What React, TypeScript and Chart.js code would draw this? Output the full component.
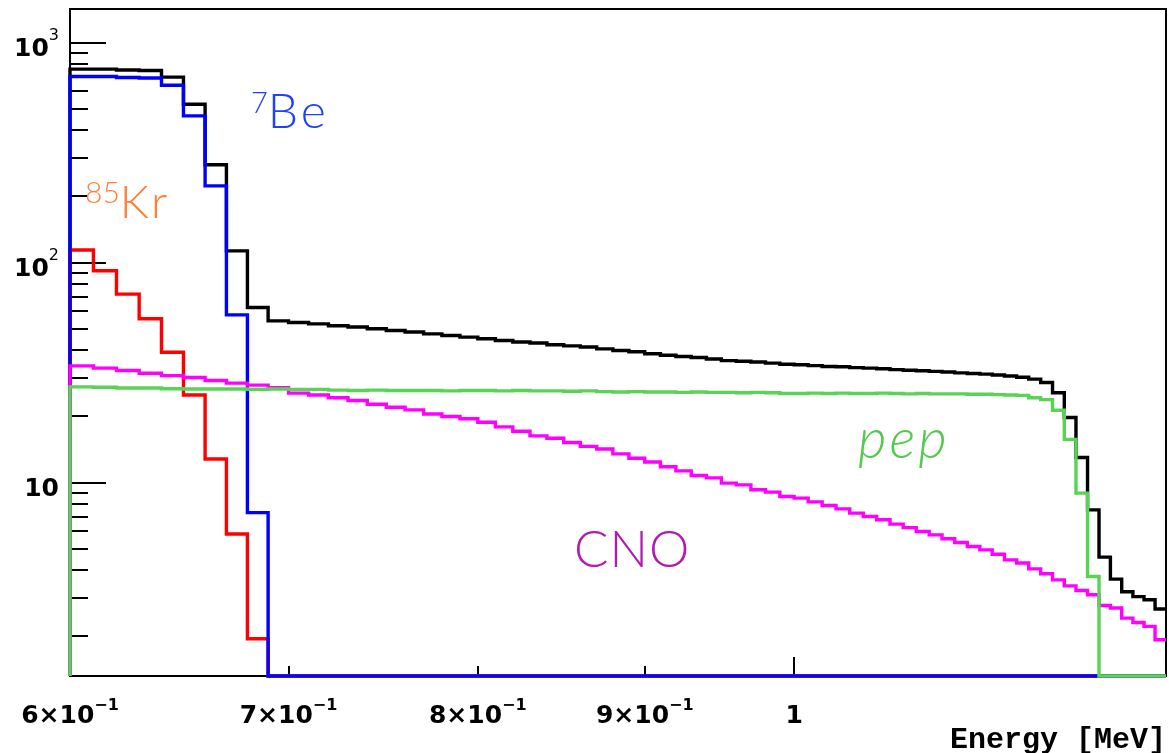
import React, { useEffect, useRef } from "react";
import { Chart, registerables } from "chart.js";

Chart.register(...registerables);

// Histogram binning: 70 bins of 10 keV starting at 0.60 MeV
const BIN_LOW = 0.6;
const BIN_WIDTH = 0.01;

// Axis ranges
const X_MIN = 0.6;
const X_MAX = 1.3;
const Y_MIN = 1.32;
const Y_MAX = 1420;

// Bin contents (counts per bin), one entry per bin from 0.60 MeV upward
const totalCounts = [
  757, 757, 750, 746, 696, 524, 278, 113, 62.4, 54.3,
  53.4, 52.6, 51.6, 50.9, 50.0, 49.1, 48.3, 47.4, 46.6, 45.8,
  45.0, 44.2, 43.5, 43.1, 42.3, 41.8, 41.3, 40.5, 39.8, 39.3,
  38.5, 37.9, 37.4, 37.0, 36.4, 35.8, 35.6, 35.3, 34.9, 34.5,
  34.3, 34.0, 33.7, 33.6, 33.3, 33.1, 32.9, 32.6, 32.4, 32.2,
  32.0, 31.8, 31.5, 31.3, 31.1, 30.8, 30.5, 30.1, 29.5, 28.5,
  25.6, 19.75, 13.0, 7.51, 4.58, 3.64, 3.19, 3.03, 2.93, 2.66,
];

const be7Counts = [
  701, 701, 693, 690, 639, 464, 223, 57.8, 7.3, 0,
  0, 0, 0, 0, 0, 0, 0, 0, 0, 0,
  0, 0, 0, 0, 0, 0, 0, 0, 0, 0,
  0, 0, 0, 0, 0, 0, 0, 0, 0, 0,
  0, 0, 0, 0, 0, 0, 0, 0, 0, 0,
  0, 0, 0, 0, 0, 0, 0, 0, 0, 0,
  0, 0, 0, 0, 0, 0, 0, 0, 0, 0,
];

const kr85Counts = [
  114, 91.7, 71.8, 55.5, 39.1, 25.0, 12.8, 5.83, 1.95, 0,
  0, 0, 0, 0, 0, 0, 0, 0, 0, 0,
  0, 0, 0, 0, 0, 0, 0, 0, 0, 0,
  0, 0, 0, 0, 0, 0, 0, 0, 0, 0,
  0, 0, 0, 0, 0, 0, 0, 0, 0, 0,
  0, 0, 0, 0, 0, 0, 0, 0, 0, 0,
  0, 0, 0, 0, 0, 0, 0, 0, 0, 0,
];

const cnoCounts = [
  33.9, 33.1, 32.3, 31.4, 30.6, 30.0, 29.1, 28.3, 27.7, 27.0,
  25.5, 25.0, 24.3, 23.6, 22.7, 22.0, 21.4, 20.5, 19.95, 19.5,
  18.8, 17.9, 17.1, 16.3, 15.9, 15.2, 14.6, 14.2, 13.5, 12.9,
  12.4, 11.8, 11.3, 10.76, 10.5, 9.94, 9.76, 9.27, 9.04, 8.64,
  8.49, 8.17, 7.86, 7.59, 7.26, 7.01, 6.77, 6.47, 6.24, 5.99,
  5.78, 5.55, 5.34, 5.12, 4.94, 4.72, 4.45, 4.31, 4.05, 3.85,
  3.61, 3.39, 3.23, 3.09, 2.76, 2.69, 2.42, 2.31, 2.22, 1.93,
];

const pepCounts = [
  27.2, 27.1, 26.9, 26.9, 26.7, 26.6, 26.6, 26.6, 26.5, 26.6,
  26.5, 26.5, 26.3, 26.2, 26.3, 26.2, 26.2, 26.2, 26.1, 26.2,
  26.2, 26.1, 26.2, 26.1, 26.1, 26.0, 26.1, 25.9, 25.8, 25.9,
  25.8, 25.8, 25.7, 25.8, 25.7, 25.7, 25.6, 25.7, 25.6, 25.4,
  25.4, 25.5, 25.4, 25.5, 25.4, 25.4, 25.5, 25.4, 25.3, 25.4,
  25.3, 25.3, 25.3, 25.2, 25.2, 25.1, 25.0, 24.9, 24.3, 23.8,
  21.3, 15.7, 8.95, 3.74, 0, 0, 0, 0, 0, 0,
];

// Axis ticks and labels ([mantissa part, exponent])
const xLabelValues = [0.6, 0.7, 0.8, 0.9, 1.0];
const xLabelTexts: [string, string][] = [
  ["6×10", "−1"],
  ["7×10", "−1"],
  ["8×10", "−1"],
  ["9×10", "−1"],
  ["1", ""],
];
const xShortTicks = [0.7, 0.8, 0.9];
const xLongTicks = [1.0];
const yMajorTicks = [10, 100, 1000];
const yTickTexts: [string, string][] = [
  ["10", ""],
  ["10", "2"],
  ["10", "3"],
];
const yDecades = [1, 10, 100];

const X_TITLE = "Energy [MeV]";

const COLORS = {
  total: "#000000",
  be7: "#0000ff",
  kr85: "#ff0000",
  cno: "#ff00ff",
  pep: "#59d354",
};

// Turn bin contents into step-line vertices (low edge of each bin, plus the upper edge of the last).
// Empty bins sit on the lower frame edge, as on a log axis they have no position of their own.
function histogramPoints(counts: number[]) {
  const floor = (v: number) => (v > 0 ? v : Y_MIN);
  const pts: { x: number; y: number }[] = [{ x: BIN_LOW, y: Y_MIN }];
  counts.forEach((c, i) => {
    const edge = Math.round((BIN_LOW + i * BIN_WIDTH) * 1000) / 1000;
    pts.push({ x: edge, y: floor(c) });
  });
  const last = Math.round((BIN_LOW + counts.length * BIN_WIDTH) * 1000) / 1000;
  pts.push({ x: last, y: floor(counts[counts.length - 1]) });
  return pts;
}

type Part = { text: string; font: string; dy: number; spacing?: number };

function drawParts(
  ctx: CanvasRenderingContext2D,
  x: number,
  baseline: number,
  parts: Part[],
  align: "left" | "right" | "center",
  color: string
) {
  const anyCtx = ctx as any;
  let total = 0;
  const widths = parts.map((p) => {
    ctx.font = p.font;
    anyCtx.letterSpacing = `${p.spacing || 0}px`;
    const w = ctx.measureText(p.text).width;
    total += w;
    return w;
  });
  let cx = align === "left" ? x : align === "right" ? x - total : x - total / 2;
  ctx.textAlign = "left";
  ctx.textBaseline = "alphabetic";
  ctx.fillStyle = color;
  parts.forEach((p, i) => {
    ctx.font = p.font;
    anyCtx.letterSpacing = `${p.spacing || 0}px`;
    ctx.fillText(p.text, cx, baseline + p.dy);
    cx += widths[i];
  });
  anyCtx.letterSpacing = "0px";
}

const LABEL_FONT = 'bold 25px "DejaVu Sans"';
const LABEL_SUP_FONT = 'bold 16px "DejaVu Sans"';
const Y_SUP_FONT = '16px "DejaVu Sans"';
const NOTE_FONT = "Lato";

const frameAndAxes = {
  id: "frameAndAxes",
  beforeDatasetsDraw(chart: any) {
    const { ctx, chartArea } = chart;
    const { left, right, top, bottom } = chartArea;
    const xs = chart.scales.x;
    const ys = chart.scales.y;
    ctx.save();
    ctx.strokeStyle = "#000";
    ctx.lineWidth = 2;
    ctx.strokeRect(left, top, right - left, bottom - top);

    const seg = (x0: number, y0: number, x1: number, y1: number) => {
      ctx.beginPath();
      ctx.moveTo(x0, y0);
      ctx.lineTo(x1, y1);
      ctx.stroke();
    };

    // y ticks, drawn inwards from the left axis
    yMajorTicks.forEach((v) => {
      const py = Math.round(ys.getPixelForValue(v));
      seg(left, py, left + 36, py);
    });
    yDecades.forEach((d) => {
      for (let m = 2; m <= 9; m++) {
        const v = m * d;
        if (v <= Y_MIN || v >= Y_MAX) continue;
        const py = Math.round(ys.getPixelForValue(v));
        seg(left, py, left + 18, py);
      }
    });

    // x ticks, drawn upwards from the bottom axis
    xShortTicks.forEach((v) => {
      const px = Math.round(xs.getPixelForValue(v));
      seg(px, bottom, px, bottom - 10);
    });
    xLongTicks.forEach((v) => {
      const px = Math.round(xs.getPixelForValue(v));
      seg(px, bottom, px, bottom - 19);
    });
    ctx.restore();
  },
  afterDraw(chart: any) {
    const { ctx, chartArea } = chart;
    const xs = chart.scales.x;
    const ys = chart.scales.y;
    ctx.save();

    // x tick labels
    xLabelValues.forEach((v, i) => {
      const [base, sup] = xLabelTexts[i];
      const px = xs.getPixelForValue(v);
      const parts: Part[] = [{ text: base, font: LABEL_FONT, dy: 0 }];
      if (sup) parts.push({ text: sup, font: LABEL_SUP_FONT, dy: -13 });
      drawParts(ctx, px, 723, parts, "center", "#000");
    });

    // y tick labels
    yMajorTicks.forEach((v, i) => {
      const [base, sup] = yTickTexts[i];
      const py = ys.getPixelForValue(v);
      const parts: Part[] = [{ text: base, font: LABEL_FONT, dy: 0 }];
      if (sup) parts.push({ text: sup, font: Y_SUP_FONT, dy: -16 });
      drawParts(ctx, 59, py + 13, parts, "right", "#000");
    });

    // axis title
    ctx.font = 'bold 30px "Liberation Mono"';
    ctx.fillStyle = "#000";
    ctx.textAlign = "right";
    ctx.textBaseline = "alphabetic";
    ctx.fillText(X_TITLE, chartArea.right, 748);

    // component annotations
    drawParts(
      ctx,
      251,
      128,
      [
        { text: "7", font: `300 29px ${NOTE_FONT}`, dy: -15 },
        { text: "Be", font: `300 48px ${NOTE_FONT}`, dy: 0, spacing: 3 },
      ],
      "left",
      "#2040ff"
    );
    drawParts(
      ctx,
      85,
      218,
      [
        { text: "85", font: `300 30px ${NOTE_FONT}`, dy: -15 },
        { text: "Kr", font: `300 46px ${NOTE_FONT}`, dy: 0, spacing: 2 },
      ],
      "left",
      "#ff7f3a"
    );
    drawParts(
      ctx,
      858,
      458,
      [{ text: "pep", font: `italic 300 55px ${NOTE_FONT}`, dy: 0, spacing: 3 }],
      "left",
      "#55c94f"
    );
    drawParts(
      ctx,
      574,
      567,
      [{ text: "CNO", font: `300 51px ${NOTE_FONT}`, dy: 0, spacing: 1 }],
      "left",
      "#b01ab0"
    );
    ctx.restore();
  },
};

function lineDataset(label: string, counts: number[], color: string) {
  return {
    label,
    data: histogramPoints(counts),
    borderColor: color,
    backgroundColor: color,
    borderWidth: 3.4,
    pointRadius: 0,
    fill: false,
    stepped: true as const,
    tension: 0,
    clip: 6,
    borderJoinStyle: "miter" as const,
    borderCapStyle: "butt" as const,
  };
}

export default function App() {
  const canvasRef = useRef<HTMLCanvasElement>(null);

  useEffect(() => {
    if (!canvasRef.current) return;
    const chart = new Chart(canvasRef.current, {
      type: "line",
      data: {
        datasets: [
          lineDataset("pep", pepCounts, COLORS.pep),
          lineDataset("CNO", cnoCounts, COLORS.cno),
          lineDataset("7Be", be7Counts, COLORS.be7),
          lineDataset("85Kr", kr85Counts, COLORS.kr85),
          lineDataset("Total", totalCounts, COLORS.total),
        ],
      },
      options: {
        animation: false,
        responsive: false,
        devicePixelRatio: 1,
        parsing: false,
        normalized: true,
        layout: { padding: { left: 70, right: 3, top: 9, bottom: 77 } },
        plugins: {
          legend: { display: false },
          tooltip: { enabled: false },
        },
        events: [],
        scales: {
          x: { type: "logarithmic", min: X_MIN, max: X_MAX, display: false },
          y: { type: "logarithmic", min: Y_MIN, max: Y_MAX, display: false },
        },
      },
      plugins: [frameAndAxes],
    });
    return () => chart.destroy();
  }, []);

  return (
    <div
      style={{
        position: "absolute",
        left: 0,
        top: 0,
        width: 1169,
        height: 753,
        background: "#ffffff",
      }}
    >
      <canvas ref={canvasRef} width={1169} height={753} style={{ display: "block" }} />
    </div>
  );
}
